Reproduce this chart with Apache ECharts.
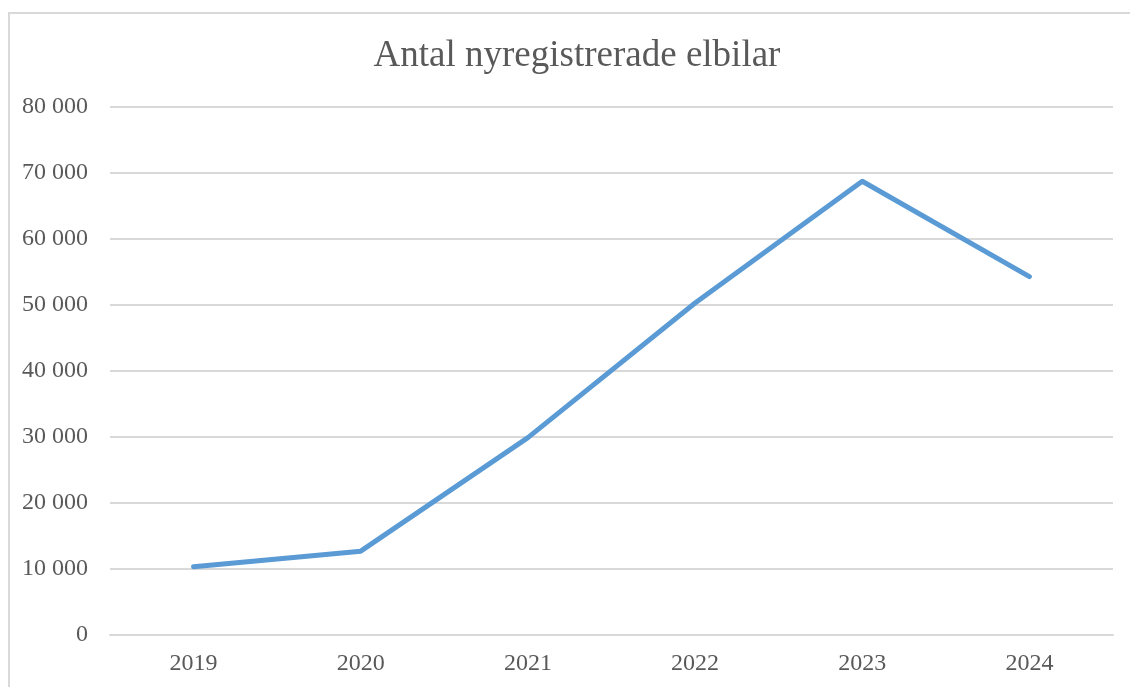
<!DOCTYPE html>
<html>
<head>
<meta charset="utf-8">
<script src="https://cdn.jsdelivr.net/npm/echarts@6/dist/echarts.min.js"></script>
<style>
  html, body { margin: 0; padding: 0; background: #fff; overflow: hidden; }
  .frame {
    position: absolute; left: 8px; top: 12px;
    width: 1140px; height: 700px;
    border: 2px solid #d9d9d9; box-sizing: border-box;
  }
  #chart { position: absolute; left: 0; top: 0; width: 1130px; height: 687px; }
</style>
</head>
<body>
<div class="frame"></div>
<div id="chart"></div>
<script>
// år och antal nyregistrerade elbilar
const years = ["2019", "2020", "2021", "2022", "2023", "2024"];
const registrations = [10350, 12700, 29900, 50300, 68750, 54300];

const chart = echarts.init(document.getElementById("chart"));
const font = "'Liberation Serif', 'Times New Roman', serif";

chart.setOption({
  animation: false,
  title: {
    text: "Antal nyregistrerade elbilar",
    left: 572,
    top: 33,
    textAlign: "center",
    textStyle: { fontFamily: font, fontSize: 37, fontWeight: "normal", color: "#595959" }
  },
  grid: { left: 110, right: 17, top: 107, bottom: 52 },
  xAxis: {
    type: "category",
    data: years,
    boundaryGap: true,
    axisLine: { show: true, lineStyle: { color: "#d9d9d9", width: 2 } },
    axisTick: { show: false },
    axisLabel: { fontFamily: font, fontSize: 24, color: "#595959", margin: 17 }
  },
  yAxis: {
    type: "value",
    min: 0,
    max: 80000,
    interval: 10000,
    axisLine: { show: false },
    axisTick: { show: false },
    splitLine: { lineStyle: { color: "#d9d9d9", width: 2 } },
    axisLabel: {
      fontFamily: font, fontSize: 24, color: "#595959", margin: 22,
      padding: [6, 0, 0, 0],
      formatter: (v) => v === 0 ? "0" : String(v).replace(/\B(?=(\d{3})+(?!\d))/g, " ")
    }
  },
  series: [{
    type: "line",
    data: registrations,
    symbol: "none",
    lineStyle: { color: "#5b9bd5", width: 5, cap: "round", join: "round" }
  }]
});
</script>
</body>
</html>
